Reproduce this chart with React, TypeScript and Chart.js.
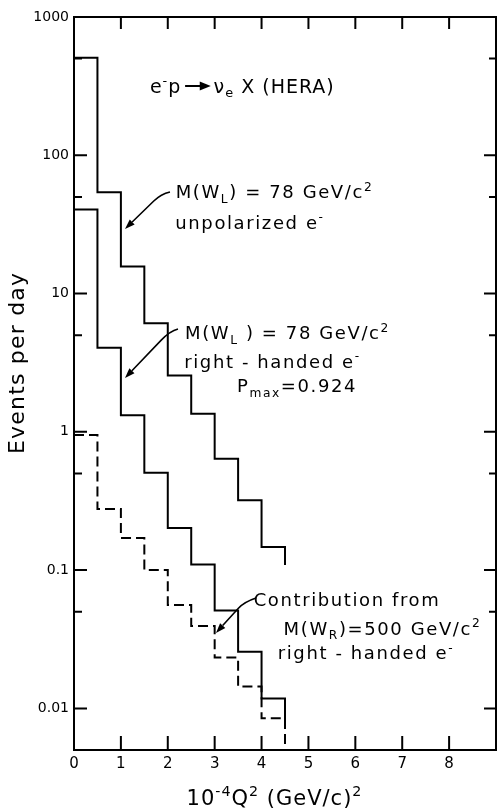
import React, { useEffect, useRef } from "react";
import { Chart, registerables } from "chart.js";

Chart.register(...registerables);

// ---- data ----
const binEdges = [0, 0.5, 1, 1.5, 2, 2.5, 3, 3.5, 4, 4.5];
// value in each bin, last entry = level where the closing vertical stub ends
const unpolarized = [508, 54, 15.7, 6.1, 2.55, 1.35, 0.64, 0.32, 0.147, 0.109];
const rightHanded = [40.5, 4.05, 1.32, 0.505, 0.202, 0.11, 0.051, 0.0257, 0.0118, 0.0083];
const wrContribution = [0.95, 0.277, 0.171, 0.1, 0.056, 0.0395, 0.0233, 0.0144, 0.0085, 0.005];

const xTicks = [0, 1, 2, 3, 4, 5, 6, 7, 8, 9];
const xTickLabels = ["0", "1", "2", "3", "4", "5", "6", "7", "8", ""];
const yMajorTicks = [0.01, 0.1, 1, 10, 100, 1000];
const yTickLabels = ["0.01", "0.1", "1", "10", "100", "1000"];
const yMinorTicks = [0.05, 0.5, 5, 50, 500];

type Seg = [string, string];
const titleText: Seg[] = [["e", "n"], ["-", "sup"], ["p", "n"], ["", "arrow"], ["ν", "n"], ["e", "sub"], [" X (HERA)", "n"]];
const label1: Seg[][] = [
  [["M(W", "n"], ["L", "sub"], [") = 78 GeV/c", "n"], ["2", "sup"]],
  [["unpolarized e", "n"], ["-", "sup"]],
];
const label2: Seg[][] = [
  [["M(W", "n"], ["L", "sub"], [" ) = 78 GeV/c", "n"], ["2", "sup"]],
  [["right - handed e", "n"], ["-", "sup"]],
  [["P", "n"], ["max", "sub"], ["=0.924", "n"]],
];
const label3: Seg[][] = [
  [["Contribution from", "n"]],
  [["M(W", "n"], ["R", "sub"], [")=500 GeV/c", "n"], ["2", "sup"]],
  [["right - handed e", "n"], ["-", "sup"]],
];
const xTitle: Seg[] = [["10", "n"], ["-4", "sup"], ["Q", "n"], ["2", "sup"], [" (GeV/c)", "n"], ["2", "sup"]];
const yTitle = "Events per day";

// anchor positions (data coordinates: x in 10^-4 Q^2, y in events/day)
const titlePos = { x: 3.59, y: 317 };
const label1Pos = [{ x: 4.276, y: 54.3 }, { x: 3.753, y: 32.9 }];
const label2Pos = [{ x: 4.553, y: 5.19 }, { x: 4.233, y: 3.25 }, { x: 4.756, y: 2.15 }];
const label3Pos = [{ x: 5.822, y: 0.0608 }, { x: 6.579, y: 0.0381 }, { x: 6.227, y: 0.02515 }];
const leader1 = [{ x: 2.047, y: 54.3 }, { x: 1.855, y: 52.5 }, { x: 1.088, y: 29.3 }];
const leader2 = [{ x: 2.218, y: 5.54 }, { x: 2.047, y: 5.36 }, { x: 1.088, y: 2.45 }];
const leader3 = [{ x: 3.881, y: 0.0629 }, { x: 3.626, y: 0.0588 }, { x: 3.028, y: 0.0351 }];
const xTitlePos = { x: 4.276 };
const yTitlePos = { y: 3.15 };

const FONT = "'DejaVu Sans', sans-serif";

function segFont(size: number, mode: string) {
  const s = mode === "n" || mode === "arrow" ? size : size * 0.68;
  return `${s}px ${FONT}`;
}

function drawRich(ctx: CanvasRenderingContext2D, segs: Seg[], cx: number, cy: number, size: number, spacing: number) {
  ctx.save();
  (ctx as any).letterSpacing = `${spacing}px`;
  const widths = segs.map(([t, m]) => {
    if (m === "arrow") return size * 1.7;
    ctx.font = segFont(size, m);
    return ctx.measureText(t).width;
  });
  const total = widths.reduce((a, b) => a + b, 0);
  let x = cx - total / 2;
  const base = cy + size * 0.36;
  ctx.fillStyle = "#000";
  ctx.strokeStyle = "#000";
  ctx.textAlign = "left";
  ctx.textBaseline = "alphabetic";
  segs.forEach(([t, m], i) => {
    if (m === "arrow") {
      const y = base - size * 0.36;
      const x0 = x + size * 0.2;
      const x1 = x + widths[i] - size * 0.15;
      ctx.lineWidth = 2;
      ctx.beginPath();
      ctx.moveTo(x0, y);
      ctx.lineTo(x1 - 8, y);
      ctx.stroke();
      ctx.beginPath();
      ctx.moveTo(x1, y);
      ctx.lineTo(x1 - 11, y - 4.5);
      ctx.lineTo(x1 - 11, y + 4.5);
      ctx.closePath();
      ctx.fill();
    } else {
      ctx.font = segFont(size, m);
      let y = base;
      if (m === "sup") y = base - size * 0.42;
      if (m === "sub") y = base + size * 0.24;
      ctx.fillText(t, x, y);
    }
    x += widths[i];
  });
  ctx.restore();
}

function drawLeader(ctx: CanvasRenderingContext2D, pts: { x: number; y: number }[]) {
  const [p0, p1, tip] = pts;
  const q = { x: p1.x + (tip.x - p1.x) * 0.2, y: p1.y + (tip.y - p1.y) * 0.2 };
  const dx = tip.x - q.x, dy = tip.y - q.y;
  const len = Math.hypot(dx, dy);
  const ux = dx / len, uy = dy / len;
  const headL = 10, headW = 3.5;
  ctx.save();
  ctx.strokeStyle = "#000";
  ctx.fillStyle = "#000";
  ctx.lineWidth = 1.6;
  ctx.beginPath();
  ctx.moveTo(p0.x, p0.y);
  ctx.quadraticCurveTo(p1.x, p1.y, q.x, q.y);
  ctx.lineTo(tip.x - ux * headL, tip.y - uy * headL);
  ctx.stroke();
  ctx.beginPath();
  ctx.moveTo(tip.x, tip.y);
  ctx.lineTo(tip.x - ux * headL - uy * headW, tip.y - uy * headL + ux * headW);
  ctx.lineTo(tip.x - ux * headL + uy * headW, tip.y - uy * headL - ux * headW);
  ctx.closePath();
  ctx.fill();
  ctx.restore();
}

const decorPlugin = {
  id: "decor",
  afterDraw(chart: any) {
    const { ctx, chartArea: a, scales } = chart;
    const xs = scales.x, ys = scales.y;
    const P = (p: { x: number; y: number }) => ({ x: xs.getPixelForValue(p.x), y: ys.getPixelForValue(p.y) });
    ctx.save();
    ctx.strokeStyle = "#000";
    ctx.lineWidth = 2;
    ctx.strokeRect(a.left, a.top, a.right - a.left, a.bottom - a.top);
    ctx.beginPath();
    yMajorTicks.forEach((v) => {
      const p = ys.getPixelForValue(v);
      if (p > a.top + 1 && p < a.bottom - 1) {
        ctx.moveTo(a.left, p); ctx.lineTo(a.left + 13, p);
        ctx.moveTo(a.right, p); ctx.lineTo(a.right - 12, p);
      }
    });
    yMinorTicks.forEach((v) => {
      const p = ys.getPixelForValue(v);
      ctx.moveTo(a.left, p); ctx.lineTo(a.left + 8, p);
      ctx.moveTo(a.right, p); ctx.lineTo(a.right - 7, p);
    });
    xTicks.forEach((v) => {
      if (v <= 0 || v >= 9) return;
      const p = xs.getPixelForValue(v);
      ctx.moveTo(p, a.bottom); ctx.lineTo(p, a.bottom - 14);
      ctx.moveTo(p, a.top); ctx.lineTo(p, a.top + 12);
    });
    ctx.stroke();
    ctx.restore();

    const tp = P(titlePos);
    drawRich(ctx, titleText, tp.x, tp.y, 19, 1);
    label1.forEach((l, i) => { const p = P(label1Pos[i]); drawRich(ctx, l, p.x, p.y, 18, 1.6); });
    label2.forEach((l, i) => { const p = P(label2Pos[i]); drawRich(ctx, l, p.x, p.y, 18, 1.6); });
    label3.forEach((l, i) => { const p = P(label3Pos[i]); drawRich(ctx, l, p.x, p.y, 18, 1.6); });
    drawLeader(ctx, leader1.map(P));
    drawLeader(ctx, leader2.map(P));
    drawLeader(ctx, leader3.map(P));

    drawRich(ctx, xTitle, xs.getPixelForValue(xTitlePos.x), a.bottom + 47, 21, 1);

    ctx.save();
    ctx.translate(18, ys.getPixelForValue(yTitlePos.y));
    ctx.rotate(-Math.PI / 2);
    (ctx as any).letterSpacing = "1.2px";
    ctx.font = `22px ${FONT}`;
    ctx.fillStyle = "#000";
    ctx.textAlign = "center";
    ctx.textBaseline = "middle";
    ctx.fillText(yTitle, 0, 0);
    ctx.restore();
  },
};

function series(values: number[]) {
  return binEdges.map((x, i) => ({ x, y: values[i] }));
}

export default function App() {
  const ref = useRef<HTMLCanvasElement>(null);
  useEffect(() => {
    if (!ref.current) return;
    const chart = new Chart(ref.current, {
      type: "line",
      data: {
        datasets: [
          { data: series(unpolarized), borderColor: "#000", borderWidth: 2, pointRadius: 0, stepped: "before", fill: false },
          { data: series(rightHanded), borderColor: "#000", borderWidth: 2, pointRadius: 0, stepped: "before", fill: false },
          { data: series(wrContribution), borderColor: "#000", borderWidth: 2, borderDash: [10, 5], pointRadius: 0, stepped: "before", fill: false },
        ],
      },
      options: {
        animation: false,
        responsive: false,
        layout: { padding: { top: 17, right: 5, left: 0, bottom: 0 } },
        plugins: { legend: { display: false }, tooltip: { enabled: false } },
        scales: {
          x: {
            type: "linear",
            min: 0,
            max: 9,
            grid: { display: false, drawTicks: false },
            border: { display: false },
            afterBuildTicks: (s: any) => { s.ticks = xTicks.map((v) => ({ value: v })); },
            afterFit: (s: any) => { s.height = 62; },
            ticks: {
              autoSkip: false,
              maxRotation: 0,
              padding: 5,
              color: "#000",
              font: { family: FONT, size: 15 },
              callback: (v: any) => xTickLabels[xTicks.indexOf(Number(v))] ?? "",
            },
          },
          y: {
            type: "logarithmic",
            min: 0.005,
            max: 1000,
            grid: { display: false, drawTicks: false },
            border: { display: false },
            afterBuildTicks: (s: any) => { s.ticks = yMajorTicks.map((v) => ({ value: v })); },
            afterFit: (s: any) => { s.width = 74; },
            ticks: {
              autoSkip: false,
              padding: 5,
              color: "#000",
              font: { family: FONT, size: 14 },
              callback: (v: any) => {
                const i = yMajorTicks.findIndex((t) => Math.abs(t - Number(v)) / t < 1e-6);
                return i >= 0 ? yTickLabels[i] : "";
              },
            },
          },
        },
      },
      plugins: [decorPlugin],
    });
    return () => chart.destroy();
  }, []);
  return (
    <div style={{ position: "absolute", left: 0, top: 0, width: 501, height: 812, background: "#fff" }}>
      <canvas ref={ref} width={501} height={812} />
    </div>
  );
}
